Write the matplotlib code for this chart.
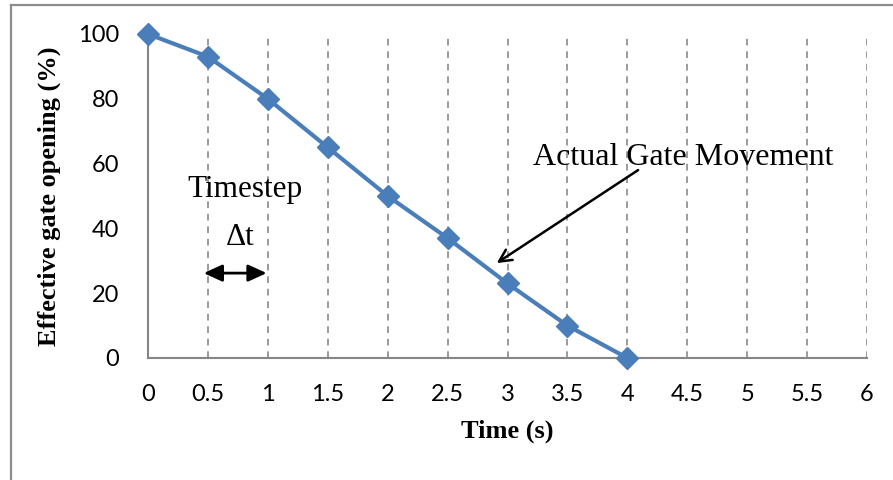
import matplotlib
matplotlib.use("Agg")
import matplotlib.pyplot as plt
from matplotlib.lines import Line2D

time_s = [0, 0.5, 1, 1.5, 2, 2.5, 3, 3.5, 4]
opening_pct = [100, 93, 80, 65, 50, 37, 23, 10, 0]
x_ticks = [0, 0.5, 1, 1.5, 2, 2.5, 3, 3.5, 4, 4.5, 5, 5.5, 6]
x_tick_labels = ["0", "0.5", "1", "1.5", "2", "2.5", "3", "3.5", "4", "4.5", "5", "5.5", "6"]
y_ticks = [0, 20, 40, 60, 80, 100]

W, H = 893, 480
fig = plt.figure(figsize=(W / 100, H / 100), dpi=100)
ax = fig.add_axes([148 / W, 1 - 358 / H, (867 - 148) / W, (358 - 34) / H])

ax.set_xlim(0, 6)
ax.set_ylim(0, 100)

grid_col = "#8a8a8a"
for xv in x_ticks[1:]:
    ax.axvline(xv, color=grid_col, lw=1.2, ls=(0, (4, 3.5)), zorder=1)

ax.plot(time_s, opening_pct, color="#4a7ebb", lw=3.0, marker="D", ms=11,
        mfc="#4a7ebb", mec="#4a7ebb", clip_on=False, zorder=5)

for s in ["top", "right"]:
    ax.spines[s].set_visible(False)
for s in ["left", "bottom"]:
    ax.spines[s].set_color("#868686")
    ax.spines[s].set_linewidth(1.5)

tick_font = "Lato"
ax.set_xticks(x_ticks)
ax.set_xticklabels(x_tick_labels, fontfamily=tick_font, fontsize=17)
ax.set_yticks(y_ticks)
ax.set_yticklabels([str(v) for v in y_ticks], fontfamily=tick_font, fontsize=17)
ax.tick_params(axis="both", length=0)
ax.tick_params(axis="x", pad=19)
ax.tick_params(axis="y", pad=21)

serif = "Liberation Serif"
ax.set_xlabel("Time (s)", fontfamily=serif, fontweight="bold", fontsize=19, labelpad=10)
ax.set_ylabel("Effective gate opening (%)", fontfamily=serif, fontweight="bold", fontsize=19, labelpad=12)

ax.text(0.81, 49.7, "Timestep", fontfamily=serif, fontsize=22.5, ha="center", va="baseline")
ax.text(0.77, 34.9, "\u0394t", fontfamily=serif, fontsize=22.5, ha="center", va="baseline")
ax.annotate("", xy=(0.465, 26.2), xytext=(0.99, 26.2),
            arrowprops=dict(arrowstyle="<|-|>,head_length=0.7,head_width=0.32", color="black", lw=2.0,
                            mutation_scale=16, shrinkA=0, shrinkB=0))
ax.text(4.47, 59.6, "Actual Gate Movement", fontfamily=serif, fontsize=23, ha="center", va="baseline")
ax.annotate("", xy=(2.91, 29.3), xytext=(4.09, 58),
            arrowprops=dict(arrowstyle="->", color="black", lw=1.8,
                            mutation_scale=22, shrinkA=0, shrinkB=0))

border_col = "#8c8c8c"
fig.add_artist(Line2D([11 / W, 11 / W], [0, 1 - 5 / H], transform=fig.transFigure, color=border_col, lw=1.6))
fig.add_artist(Line2D([11 / W, 1], [1 - 5 / H, 1 - 5 / H], transform=fig.transFigure, color=border_col, lw=1.6))

fig.savefig("out.png", dpi=100)
